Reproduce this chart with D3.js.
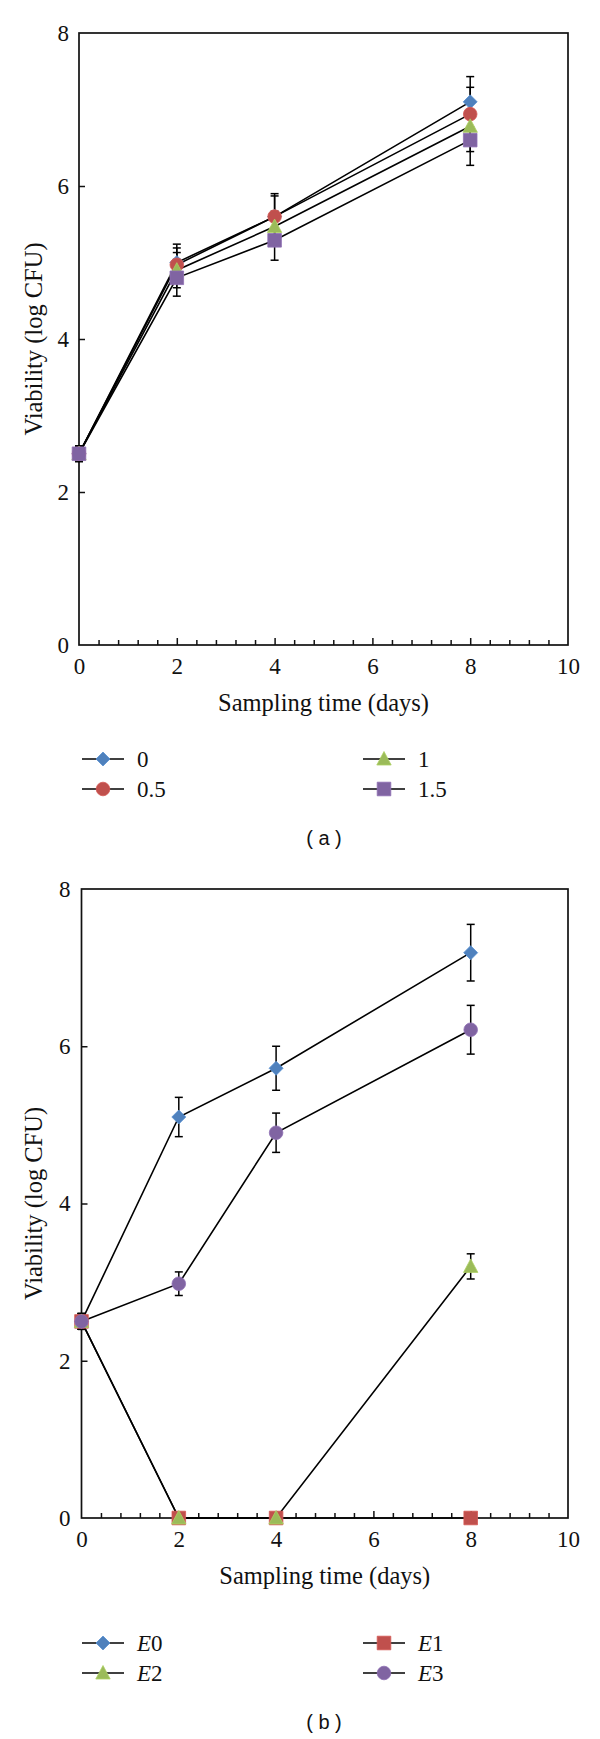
<!DOCTYPE html>
<html><head><meta charset="utf-8">
<script src="https://cdn.jsdelivr.net/npm/d3@7"></script>
<style>body{margin:0;background:#fff} svg{display:block}</style>
</head><body><svg id="c" width="600" height="1739"></svg>
<script>
// ---------- data ----------
const days = [0, 2, 4, 8];
const xTicks = [0, 2, 4, 6, 8, 10];
const yTicks = [0, 2, 4, 6, 8];

// Panel (a)
const aNames = ["0", "0.5", "1", "1.5"];
const aVal0  = [2.5, 5.00, 5.60, 7.10];
const aErr0  = [0.10, 0.24, 0.30, 0.33];
const aVal05 = [2.5, 4.97, 5.60, 6.94];
const aErr05 = [0.10, 0.22, 0.27, 0.35];
const aVal1  = [2.5, 4.90, 5.47, 6.78];
const aErr1  = [0.10, 0.23, 0.20, 0.33];
const aVal15 = [2.5, 4.80, 5.29, 6.60];
const aErr15 = [0.10, 0.24, 0.26, 0.33];

// Panel (b)
const bNames = ["E0", "E1", "E2", "E3"];
const bValE0 = [2.5, 5.10, 5.72, 7.19];
const bErrE0 = [0.10, 0.25, 0.28, 0.36];
const bValE1 = [2.5, 0, 0, 0];
const bErrE1 = [0.10, 0, 0, 0];
const bValE2 = [2.5, 0, 0, 3.20];
const bErrE2 = [0.10, 0, 0, 0.16];
const bValE3 = [2.5, 2.98, 4.90, 6.21];
const bErrE3 = [0.10, 0.15, 0.25, 0.31];

// ---------- drawing ----------
const svg = d3.select("#c");
svg.append("rect").attr("width", 600).attr("height", 1739).attr("fill", "#fff");

const COL = {blue: "#4F81BD", red: "#C0504D", green: "#9BBB59", purple: "#8064A2"};
const SERIF = "'Liberation Serif','Times New Roman',serif";
const SANS = "'Liberation Sans',Arial,sans-serif";

function shapePath(shape) {
  switch (shape) {
    case "diamond": return "M0,-7L7,0L0,7L-7,0Z";
    case "square": return "M-6.8,-6.8H6.8V6.8H-6.8Z";
    case "triangle": return "M0,-7.5L7.2,6L-7.2,6Z";
    default: return d3.symbol(d3.symbolCircle, Math.PI * 6.8 * 6.8)();
  }
}

function drawMarker(g, shape, color, cx, cy) {
  g.append("path")
    .attr("d", shapePath(shape))
    .attr("transform", `translate(${cx},${cy})`)
    .attr("fill", color)
    .attr("stroke", d3.color(color).brighter(0.3))
    .attr("stroke-width", 0.8);
}

function panel(o) {
  const x = d3.scaleLinear().domain([0, 10]).range([o.left, o.right]);
  const y = d3.scaleLinear().domain([0, 8]).range([o.bottom, o.top]);
  const g = svg.append("g");

  // minor x ticks (inward)
  const minor = d3.range(1, 25).filter(i => i % 5 !== 0).map(i => i * 0.4);
  const gMin = g.append("g").attr("transform", `translate(0,${o.bottom})`)
    .call(d3.axisTop(x).tickValues(minor).tickSize(5).tickFormat(""));
  gMin.select(".domain").remove();
  const gMaj = g.append("g").attr("transform", `translate(0,${o.bottom})`)
    .call(d3.axisTop(x).tickValues([2, 4, 6, 8]).tickSize(7).tickFormat(""));
  gMaj.select(".domain").remove();
  g.selectAll(".tick line").attr("stroke", "#111").attr("stroke-width", 1.5);

  // x labels
  const gxl = g.append("g").attr("transform", `translate(0,${o.bottom})`)
    .call(d3.axisBottom(x).tickValues(xTicks).tickSize(0).tickPadding(12.5));
  gxl.select(".domain").remove();
  gxl.selectAll("text").attr("font-family", SERIF).attr("font-size", 23).attr("fill", "#111");

  // y ticks inward
  const gy = g.append("g").attr("transform", `translate(${o.left},0)`)
    .call(d3.axisRight(y).tickValues([2, 4, 6]).tickSize(6).tickFormat(""));
  gy.select(".domain").remove();
  gy.selectAll("line").attr("stroke", "#111").attr("stroke-width", 1.5);
  const gyl = g.append("g").attr("transform", `translate(${o.left},0)`)
    .call(d3.axisLeft(y).tickValues(yTicks).tickSize(0).tickPadding(o.yPad));
  gyl.select(".domain").remove();
  gyl.selectAll("text").attr("font-family", SERIF).attr("font-size", 23).attr("fill", "#111");

  // frame
  g.append("rect").attr("x", o.left).attr("y", o.top)
    .attr("width", o.right - o.left).attr("height", o.bottom - o.top)
    .attr("fill", "none").attr("stroke", "#111").attr("stroke-width", 1.7);

  // titles
  g.append("text").attr("x", (o.left + o.right) / 2).attr("y", o.bottom + 57)
    .attr("dy", "0.35em").attr("text-anchor", "middle")
    .attr("font-family", SERIF).attr("font-size", 24.5).attr("fill", "#111")
    .text("Sampling time (days)");
  g.append("text")
    .attr("transform", `translate(33,${(o.top + o.bottom) / 2}) rotate(-90)`)
    .attr("dy", "0.35em").attr("text-anchor", "middle")
    .attr("font-family", SERIF).attr("font-size", 24.5).attr("fill", "#111")
    .text("Viability (log CFU)");

  const line = d3.line().x((d, i) => x(days[i])).y(d => y(d));
  // lines
  o.series.forEach(s => {
    g.append("path").attr("d", line(s.vals)).attr("fill", "none")
      .attr("stroke", "#000").attr("stroke-width", 1.6);
  });
  // error bars
  o.series.forEach(s => {
    s.vals.forEach((v, i) => {
      const e = s.errs[i];
      if (!e) return;
      const cx = x(days[i]);
      const eg = g.append("g").attr("stroke", "#000").attr("stroke-width", 1.5);
      eg.append("line").attr("x1", cx).attr("x2", cx).attr("y1", y(v - e)).attr("y2", y(v + e));
      eg.append("line").attr("x1", cx - 4).attr("x2", cx + 4).attr("y1", y(v - e)).attr("y2", y(v - e));
      eg.append("line").attr("x1", cx - 4).attr("x2", cx + 4).attr("y1", y(v + e)).attr("y2", y(v + e));
    });
  });
  // markers
  o.series.forEach(s => {
    s.vals.forEach((v, i) => drawMarker(g, s.shape, s.color, x(days[i]), y(v)));
  });

  // legend
  o.legend.forEach(item => {
    const s = o.series[item.idx];
    const lx = item.col === 0 ? 82 : 363;
    const ly = o.legendY[item.row];
    g.append("line").attr("x1", lx).attr("x2", lx + 42).attr("y1", ly).attr("y2", ly)
      .attr("stroke", "#000").attr("stroke-width", 1.6);
    drawMarker(g, s.shape, s.color, lx + 21, ly);
    const t = g.append("text").attr("x", lx + 55).attr("y", ly).attr("dy", "0.35em")
      .attr("font-family", SERIF).attr("font-size", 23).attr("fill", "#111");
    if (s.name.startsWith("E")) {
      t.append("tspan").attr("font-style", "italic").text("E");
      t.append("tspan").text(s.name.slice(1));
    } else {
      t.text(s.name);
    }
  });

  // caption
  g.append("text").attr("x", 324).attr("y", o.captionY).attr("dy", "0.35em")
    .attr("text-anchor", "middle").attr("font-family", SANS).attr("font-size", 20)
    .attr("fill", "#111").attr("xml:space", "preserve").text(o.caption);
}

panel({
  left: 79, right: 568, top: 33, bottom: 645, yPad: 10,
  series: [
    {name: aNames[0], vals: aVal0, errs: aErr0, shape: "diamond", color: COL.blue},
    {name: aNames[1], vals: aVal05, errs: aErr05, shape: "circle", color: COL.red},
    {name: aNames[2], vals: aVal1, errs: aErr1, shape: "triangle", color: COL.green},
    {name: aNames[3], vals: aVal15, errs: aErr15, shape: "square", color: COL.purple}
  ],
  legend: [
    {idx: 0, col: 0, row: 0}, {idx: 1, col: 0, row: 1},
    {idx: 2, col: 1, row: 0}, {idx: 3, col: 1, row: 1}
  ],
  legendY: [759, 789],
  caption: "( a )", captionY: 838
});

panel({
  left: 81.5, right: 568, top: 889, bottom: 1518, yPad: 11,
  series: [
    {name: bNames[0], vals: bValE0, errs: bErrE0, shape: "diamond", color: COL.blue},
    {name: bNames[1], vals: bValE1, errs: bErrE1, shape: "square", color: COL.red},
    {name: bNames[2], vals: bValE2, errs: bErrE2, shape: "triangle", color: COL.green},
    {name: bNames[3], vals: bValE3, errs: bErrE3, shape: "circle", color: COL.purple}
  ],
  legend: [
    {idx: 0, col: 0, row: 0}, {idx: 2, col: 0, row: 1},
    {idx: 1, col: 1, row: 0}, {idx: 3, col: 1, row: 1}
  ],
  legendY: [1643, 1673],
  caption: "( b )", captionY: 1722
});
</script>
</body></html>
